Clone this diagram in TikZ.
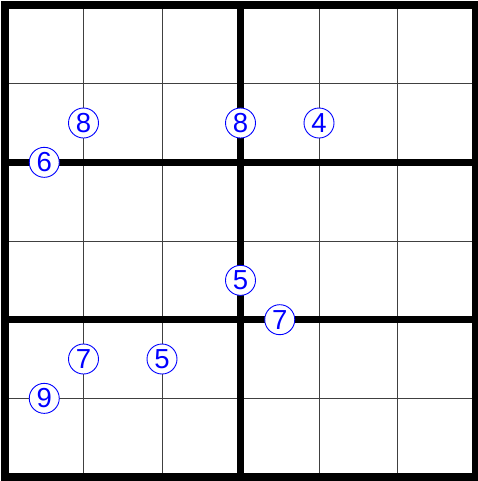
\documentclass[tikz,border=0pt]{standalone}
\usepackage{fontspec}
\setmainfont{Liberation Sans}
\begin{document}
\begin{tikzpicture}[x=78.5pt, y=-78.67pt,
  thinline/.style={line width=1pt, black!75},
  thickline/.style={line width=7.5pt, black},
  given/.style={circle, draw=blue, fill=white, line width=0.9pt, text=blue,
    minimum size=30pt, inner sep=0pt, font=\fontsize{27.5}{27.5}\selectfont}]
\useasboundingbox (-5pt,5pt) rectangle (473pt,-476pt);
\fill[white] (-5pt,5pt) rectangle (473pt,-476pt);
\foreach \i in {1,2,4,5} {
  \draw[thinline] (\i,0) -- (\i,6);
}
\foreach \j in {1,3,5} {
  \draw[thinline] (0,\j) -- (6,\j);
}
\draw[thickline] (3,0) -- (3,6);
\draw[thickline] (0,2) -- (6,2);
\draw[thickline] (0,4) -- (6,4);
\draw[thickline, line join=miter] (0,0) rectangle (6,6);
\node[given] (a) at (1,1.5) {8};
\node[given] (b) at (0.5,2) {6};
\node[given] (c) at (3,1.5) {8};
\node[given] (d) at (4,1.5) {4};
\node[given] (e) at (3,3.5) {5};
\node[given] (f) at (3.5,4) {7};
\node[given] (g) at (1,4.5) {7};
\node[given] (h) at (2,4.5) {5};
\node[given] (k) at (0.5,5) {9};
\end{tikzpicture}
\end{document}
